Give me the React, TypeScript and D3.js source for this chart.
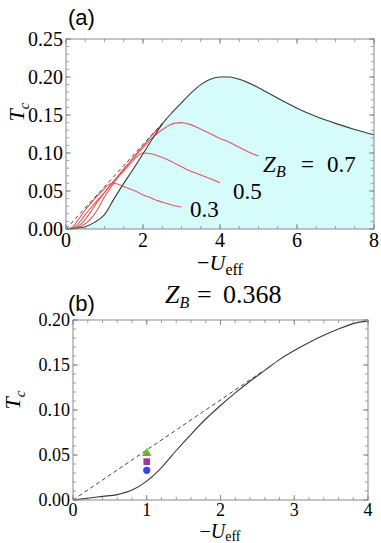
import React from "react";
import * as d3 from "d3";

// ---- data ----
// panel (a): black envelope curve (filled underneath)
const envU = [0, 0.25, 0.5, 0.75, 1.0, 1.25, 1.5, 1.75, 2.0, 2.25, 2.5, 2.75, 3.0, 3.25, 3.5, 3.75, 4.0, 4.25, 4.5, 5, 5.5, 6, 6.5, 7, 7.5, 8];
const envT = [0, 0.001, 0.003, 0.009, 0.019, 0.04, 0.06, 0.079, 0.099, 0.119, 0.138, 0.153, 0.166, 0.179, 0.19, 0.197, 0.2, 0.2, 0.197, 0.186, 0.172, 0.159, 0.148, 0.139, 0.131, 0.124];

// red curves, Z_B = 0.3, 0.5, 0.7 and one more close to the envelope
const z03U = [0, 0.1, 0.2, 0.3, 0.4, 0.5, 0.6, 0.7, 0.8, 0.9, 1.0, 1.1, 1.2, 1.3, 1.4, 1.6, 1.8, 2.0, 2.2, 2.4, 2.6, 2.8, 3.0];
const z03T = [0, 0.001, 0.004, 0.011, 0.018, 0.025, 0.031, 0.037, 0.043, 0.048, 0.053, 0.058, 0.06, 0.0595, 0.058, 0.054, 0.05, 0.045, 0.041, 0.037, 0.034, 0.031, 0.029];
const z05U = [0, 0.2, 0.4, 0.5, 0.6, 0.8, 1.0, 1.2, 1.4, 1.6, 1.8, 2.0, 2.2, 2.4, 2.6, 2.8, 3.0, 3.2, 3.4, 3.6, 3.8, 4.0];
const z05T = [0, 0.002, 0.012, 0.019, 0.025, 0.037, 0.048, 0.06, 0.071, 0.082, 0.093, 0.1, 0.099, 0.096, 0.092, 0.087, 0.082, 0.077, 0.073, 0.069, 0.065, 0.061];
const z07U = [0, 0.2, 0.4, 0.55, 0.7, 0.85, 1.0, 1.2, 1.4, 1.6, 1.8, 2.0, 2.2, 2.4, 2.6, 2.8, 3.0, 3.2, 3.4, 3.6, 3.8, 4.0, 4.2, 4.4, 4.6, 4.8, 5.0];
const z07T = [0, 0.001, 0.007, 0.016, 0.027, 0.038, 0.048, 0.061, 0.073, 0.085, 0.096, 0.107, 0.118, 0.127, 0.134, 0.139, 0.14, 0.138, 0.134, 0.129, 0.124, 0.119, 0.115, 0.11, 0.105, 0.1, 0.096];
const z09U = [0, 0.2, 0.4, 0.6, 0.7, 0.8, 0.95, 1.1, 1.3, 1.5, 1.7, 1.9, 2.1, 2.3, 2.5];
const z09T = [0, 0.0005, 0.004, 0.011, 0.017, 0.024, 0.038, 0.05, 0.065, 0.078, 0.091, 0.103, 0.115, 0.127, 0.138];

// dashed asymptote T = slope * (-U)
const dashSlope = 0.0556;
const dashEndA = 2.6;
const dashEndB = 2.56;

// panel (b): Z_B = 0.368
const bU = [0, 0.2, 0.4, 0.6, 0.8, 1.0, 1.2, 1.4, 1.6, 1.8, 2.0, 2.2, 2.4, 2.6, 2.8, 3.0, 3.2, 3.4, 3.6, 3.8, 4.0];
const bT = [0, 0.002, 0.004, 0.006, 0.011, 0.021, 0.036, 0.055, 0.073, 0.09, 0.105, 0.119, 0.132, 0.144, 0.156, 0.166, 0.175, 0.183, 0.19, 0.196, 0.199];

// markers at -U = 1
const markU = 1;
const markGreen = 0.052;
const markBrown = 0.0505;
const markPurple = 0.0426;
const markBlue = 0.033;

const zip = (u: number[], t: number[]) => u.map((v, i) => [v, t[i]] as [number, number]);

const serif = "'Liberation Serif', 'DejaVu Serif', serif";
const sans = "'Liberation Sans', Arial, sans-serif";
const frameCol = "#8a8a8a";
const redCol = "#e5585c";
const curveCol = "#3a3a3a";

type Sc = d3.ScaleLinear<number, number>;

// frame with inward ticks on all four sides
const Frame = ({ x, y, xMaj, xMin, yMaj, yMin, fx, fy, fs, xlOff }: {
    x: Sc; y: Sc; xMaj: number[]; xMin: number[]; yMaj: number[]; yMin: number[];
    fx: (v: number) => string; fy: (v: number) => string; fs: number; xlOff: number;
}) => {
    const [x0, x1] = x.range();
    const [y0, y1] = y.range(); // y0 bottom, y1 top
    const big = 5, small = 3;
    return (
        <g>
            <rect x={x0} y={y1} width={x1 - x0} height={y0 - y1} fill="none" stroke={frameCol} strokeWidth={1} />
            {xMin.map((v, i) => (
                <g key={"xm" + i} stroke={frameCol} strokeWidth={0.8}>
                    <line x1={x(v)} x2={x(v)} y1={y0} y2={y0 - small} />
                    <line x1={x(v)} x2={x(v)} y1={y1} y2={y1 + small} />
                </g>
            ))}
            {xMaj.map((v, i) => (
                <g key={"xM" + i}>
                    <line x1={x(v)} x2={x(v)} y1={y0} y2={y0 - big} stroke={frameCol} />
                    <line x1={x(v)} x2={x(v)} y1={y1} y2={y1 + big} stroke={frameCol} />
                    <text x={x(v)} y={y0 + xlOff} textAnchor="middle" fontFamily={serif} fontSize={fs}>{fx(v)}</text>
                </g>
            ))}
            {yMin.map((v, i) => (
                <g key={"ym" + i} stroke={frameCol} strokeWidth={0.8}>
                    <line x1={x0} x2={x0 + small} y1={y(v)} y2={y(v)} />
                    <line x1={x1} x2={x1 - small} y1={y(v)} y2={y(v)} />
                </g>
            ))}
            {yMaj.map((v, i) => (
                <g key={"yM" + i}>
                    <line x1={x0} x2={x0 + big} y1={y(v)} y2={y(v)} stroke={frameCol} />
                    <line x1={x1} x2={x1 - big} y1={y(v)} y2={y(v)} stroke={frameCol} />
                    <text x={x0 - 3} y={y(v) + fs * 0.33} textAnchor="end" fontFamily={serif} fontSize={fs}>{fy(v)}</text>
                </g>
            ))}
        </g>
    );
};

const range = (a: number, b: number, s: number) => d3.range(0, Math.round((b - a) / s) + 1).map((i) => +(a + i * s).toFixed(4));

const App = () => {
    // panel (a) scales
    const xa = d3.scaleLinear().domain([0, 8]).range([66, 374]);
    const ya = d3.scaleLinear().domain([0, 0.25]).range([229, 39]);
    // panel (b) scales
    const xb = d3.scaleLinear().domain([0, 4]).range([73, 368]);
    const yb = d3.scaleLinear().domain([0, 0.2]).range([500, 320]);

    const lineA = d3.line<[number, number]>().x((d) => xa(d[0])).y((d) => ya(d[1])).curve(d3.curveMonotoneX);
    const areaA = d3.area<[number, number]>().x((d) => xa(d[0])).y0(ya(0)).y1((d) => ya(d[1])).curve(d3.curveMonotoneX);
    const lineB = d3.line<[number, number]>().x((d) => xb(d[0])).y((d) => yb(d[1])).curve(d3.curveMonotoneX);

    const env = zip(envU, envT);
    const reds = [zip(z03U, z03T), zip(z05U, z05T), zip(z07U, z07T), zip(z09U, z09T)];
    const fmt2 = d3.format(".2f");
    const fmt0 = d3.format("d");

    // label anchors
    const l7x = xa(5.12), l7y = ya(0.075);
    const tbx = 165, tby = 303;

    return (
        <svg width={381} height={543} style={{ position: "absolute", left: 0, top: 0, background: "#fff" }}>
            {/* ---------- panel (a) ---------- */}
            <path d={areaA(env) || ""} fill="#d6fbfb" />
            {reds.map((r, i) => (
                <path key={i} d={lineA(r) || ""} fill="none" stroke={redCol} strokeWidth={1.1} />
            ))}
            <line x1={xa(0)} y1={ya(0)} x2={xa(dashEndA)} y2={ya(dashSlope * dashEndA)} stroke="#444" strokeWidth={1} strokeDasharray="4,3" />
            <path d={lineA(env) || ""} fill="none" stroke={curveCol} strokeWidth={1.1} />
            <Frame x={xa} y={ya} xMaj={range(0, 8, 2)} xMin={range(0, 8, 0.5)} yMaj={range(0, 0.25, 0.05)} yMin={range(0, 0.25, 0.01)}
                fx={fmt0} fy={fmt2} fs={20} xlOff={18} />
            <text x={68} y={25} fontFamily={sans} fontSize={22}>(a)</text>
            <text transform="translate(24,112) rotate(-90)" textAnchor="middle" fontFamily={serif} fontSize={22}>
                <tspan fontStyle="italic">T</tspan><tspan fontStyle="italic" fontSize={15} dy={5}>c</tspan>
            </text>
            <text x={220} y={270} textAnchor="middle" fontFamily={serif} fontSize={22}>
                −<tspan fontStyle="italic">U</tspan><tspan fontSize={16} dy={5}>eff</tspan>
            </text>
            <text x={l7x} y={l7y} fontFamily={serif} fontSize={23}>
                <tspan fontStyle="italic">Z</tspan><tspan fontStyle="italic" fontSize={16} dy={5}>B</tspan>
                <tspan x={l7x + 38} dy={-5}>=</tspan><tspan x={l7x + 64}>0.7</tspan>
            </text>
            <text x={xa(4.34)} y={ya(0.039)} fontFamily={serif} fontSize={23}>0.5</text>
            <text x={xa(3.22)} y={ya(0.016)} fontFamily={serif} fontSize={23}>0.3</text>

            {/* ---------- panel (b) ---------- */}
            <line x1={xb(0)} y1={yb(0)} x2={xb(dashEndB)} y2={yb(dashSlope * dashEndB)} stroke="#444" strokeWidth={1} strokeDasharray="4,3" />
            <path d={lineB(zip(bU, bT)) || ""} fill="none" stroke={curveCol} strokeWidth={1.1} />
            <circle cx={xb(markU)} cy={yb(markBlue)} r={3.6} fill="#3546f5" />
            <rect x={xb(markU) - 3.3} y={yb(markPurple) - 3.3} width={6.6} height={6.6} fill="#9a36a6" />
            <path d={d3.symbol(d3.symbolTriangle, 40)() || ""} transform={`translate(${xb(markU)},${yb(markGreen)})`} fill="#62c13a" />
            <circle cx={xb(markU)} cy={yb(markBrown)} r={1.8} fill="#a0803a" />
            <Frame x={xb} y={yb} xMaj={range(0, 4, 1)} xMin={range(0, 4, 0.2)} yMaj={range(0, 0.2, 0.05)} yMin={range(0, 0.2, 0.01)}
                fx={fmt0} fy={fmt2} fs={18} xlOff={16} />
            <text x={68} y={311} fontFamily={sans} fontSize={22}>(b)</text>
            <text x={tbx} y={tby} fontFamily={serif} fontSize={26}>
                <tspan fontStyle="italic">Z</tspan><tspan fontStyle="italic" fontSize={16} dy={5}>B</tspan>
                <tspan x={tbx + 32} dy={-5}>=</tspan><tspan x={tbx + 58}>0.368</tspan>
            </text>
            <text transform="translate(20,400) rotate(-90)" textAnchor="middle" fontFamily={serif} fontSize={22}>
                <tspan fontStyle="italic">T</tspan><tspan fontStyle="italic" fontSize={15} dy={5}>c</tspan>
            </text>
            <text x={220} y={538} textAnchor="middle" fontFamily={serif} fontSize={20}>
                −<tspan fontStyle="italic">U</tspan><tspan fontSize={14} dy={3}>eff</tspan>
            </text>
        </svg>
    );
};

export default App;
